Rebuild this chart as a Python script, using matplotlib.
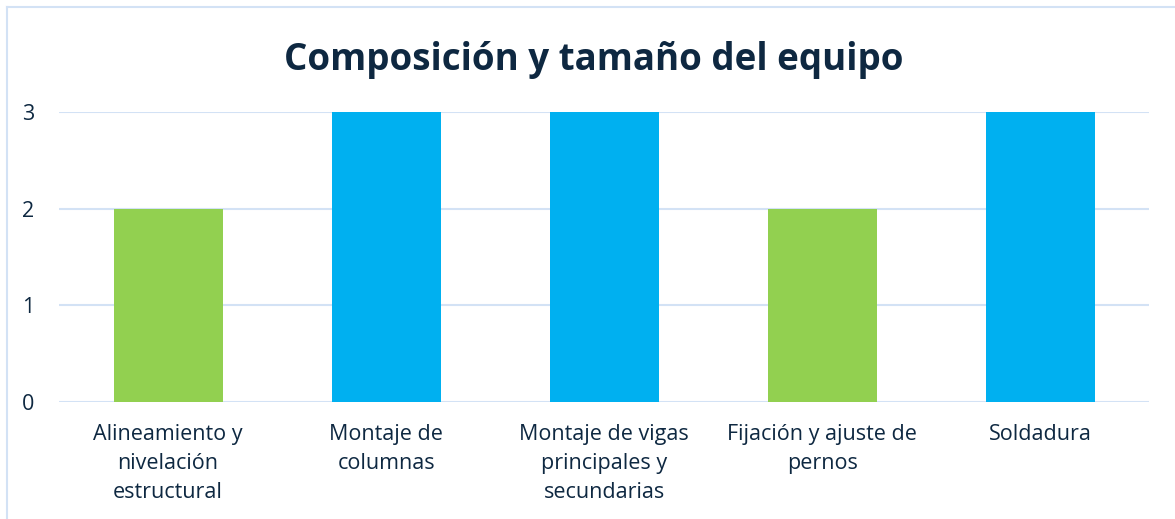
import matplotlib.pyplot as plt
from matplotlib.lines import Line2D

categories = ["Alineamiento y\nnivelación\nestructural", "Montaje de\ncolumnas",
              "Montaje de vigas\nprincipales y\nsecundarias", "Fijación y ajuste de\npernos",
              "Soldadura"]
values = [2, 3, 3, 2, 3]
colors = ["#92D050", "#00B0F0", "#00B0F0", "#92D050", "#00B0F0"]

navy = "#0E2841"
grid = "#D3E2F5"

plt.rcParams['font.family'] = ['Open Sans', 'DejaVu Sans']

fig = plt.figure(figsize=(11.75, 5.19), dpi=100)
ax = fig.add_axes([0.0502, 0.2254, 0.928, 0.5588])

x = range(len(categories))
ax.bar(x, values, width=0.5, color=colors, zorder=3)
ax.set_xlim(-0.5, len(categories) - 0.5)
ax.set_ylim(0, 3)
ax.set_yticks([0, 1, 2, 3])
ax.set_xticks(list(x))
ax.set_xticklabels(categories, fontsize=15.5, color=navy, linespacing=1.5, va='top')
ax.tick_params(axis='both', length=0, labelsize=15.5, labelcolor=navy)
ax.tick_params(axis='x', pad=16)
ax.tick_params(axis='y', pad=22)
for lab in ax.get_yticklabels():
    lab.set_horizontalalignment('center')
ax.grid(axis='y', color=grid, lw=1.5, zorder=0)
for s in ax.spines.values():
    s.set_visible(False)

fig.text(0.5055, 0.885, "Composición y tamaño del equipo", ha='center', va='center',
         fontsize=26.5, fontweight='bold', color=navy)

# chart border
fig.add_artist(Line2D([6.5 / 1175, 6.5 / 1175], [0, 1 - 6.5 / 519], color=grid, lw=1.5))
fig.add_artist(Line2D([6.5 / 1175, 1], [1 - 6.5 / 519, 1 - 6.5 / 519], color=grid, lw=1.5))

fig.savefig("out.png", dpi=100)
